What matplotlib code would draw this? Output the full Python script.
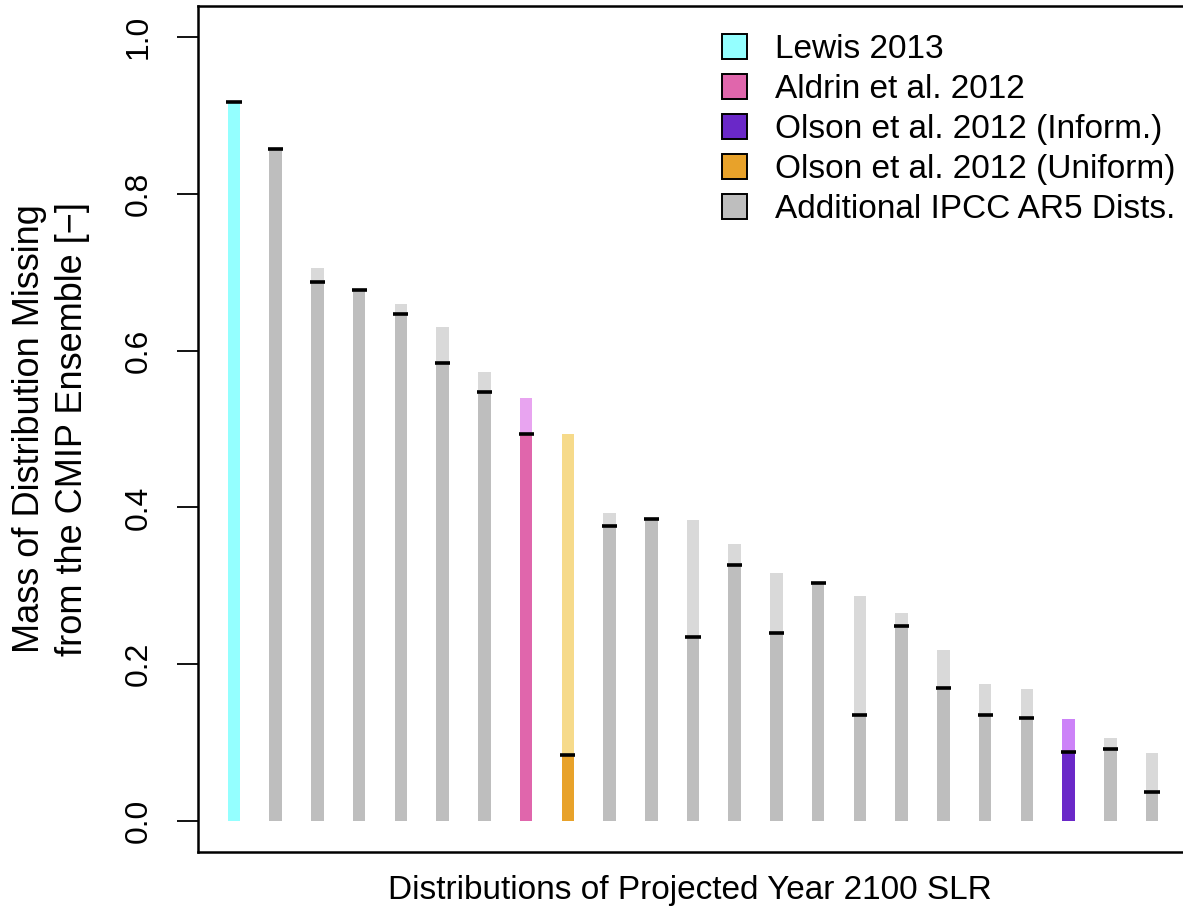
import numpy as np
import matplotlib
matplotlib.use("Agg")
import matplotlib.pyplot as plt
from matplotlib.patches import Patch

plt.rcParams['font.family'] = ['Liberation Sans', 'DejaVu Sans']

# full height of each bar (light part) and the marked value (dark part)
full_vals = [0.919, 0.859, 0.705, 0.678, 0.659, 0.630, 0.573, 0.540, 0.494,
             0.393, 0.385, 0.384, 0.353, 0.316, 0.304, 0.287, 0.265, 0.218,
             0.175, 0.168, 0.130, 0.105, 0.086]
mark_vals = [0.918, 0.858, 0.688, 0.678, 0.647, 0.584, 0.547, 0.494, 0.084,
             0.376, 0.385, 0.234, 0.327, 0.239, 0.304, 0.135, 0.248, 0.169,
             0.135, 0.131, 0.088, 0.091, 0.036]
groups = ['lewis', 'ipcc', 'ipcc', 'ipcc', 'ipcc', 'ipcc', 'ipcc', 'aldrin',
          'olson_u', 'ipcc', 'ipcc', 'ipcc', 'ipcc', 'ipcc', 'ipcc', 'ipcc',
          'ipcc', 'ipcc', 'ipcc', 'ipcc', 'olson_i', 'ipcc', 'ipcc']

legend_keys = ['lewis', 'aldrin', 'olson_i', 'olson_u', 'ipcc']
legend_labels = ['Lewis 2013', 'Aldrin et al. 2012', 'Olson et al. 2012 (Inform.)',
                 'Olson et al. 2012 (Uniform)', 'Additional IPCC AR5 Dists.']

dark = {'lewis': '#94FFFF', 'aldrin': '#E066AC', 'olson_i': '#6A28C8',
        'olson_u': '#E8A22A', 'ipcc': '#BEBEBE'}
light = {'lewis': '#94FFFF', 'aldrin': '#E8A4F0', 'olson_i': '#CC82F8',
         'olson_u': '#F6DA8A', 'ipcc': '#D9D9D9'}

fig = plt.figure(figsize=(11.83, 9.09), dpi=100)
# right spine sits just past the image edge, like the cropped original
ax = fig.add_axes([198 / 1183, 1 - 852 / 909, 988 / 1183, 846 / 909])

x = np.arange(1, len(full_vals) + 1)
bw = 0.3
ax.bar(x, full_vals, width=bw, color=[light[g] for g in groups], zorder=2)
ax.bar(x, mark_vals, width=bw, color=[dark[g] for g in groups], zorder=3)
ax.hlines(mark_vals, x - 0.18, x + 0.18, colors='black', linewidth=2.6, zorder=4)

ax.set_xlim(0.137, 23.815)
ax.set_ylim(-0.04, 1.04)
ax.set_xticks([])
ax.set_yticks([0.0, 0.2, 0.4, 0.6, 0.8, 1.0])
ax.set_yticklabels(['0.0', '0.2', '0.4', '0.6', '0.8', '1.0'], rotation=90,
                   va='center', fontsize=23)
ax.tick_params(axis='y', length=15, width=1.3, pad=17)
for s in ax.spines.values():
    s.set_linewidth(1.8)

fig.text(51 / 1183, 1 - 429 / 909,
         'Mass of Distribution Missing\nfrom the CMIP Ensemble [\u2212]',
         rotation=90, ha='center', va='center', fontsize=26, linespacing=1.3)
fig.text(690 / 1183, 1 - 891 / 909, 'Distributions of Projected Year 2100 SLR',
         ha='center', va='center', fontsize=24)

handles = [Patch(facecolor=dark[k], edgecolor='black', linewidth=1.4)
           for k in legend_keys]
ax.legend(handles, legend_labels, loc='upper left',
          bbox_to_anchor=(722 / 1183, 1 - 34 / 909), bbox_transform=fig.transFigure,
          frameon=False, fontsize=24, borderpad=0, borderaxespad=0,
          handlelength=0.75, handleheight=0.75, handletextpad=0.85, labelspacing=0.27)

fig.savefig('out.png', dpi=100)
